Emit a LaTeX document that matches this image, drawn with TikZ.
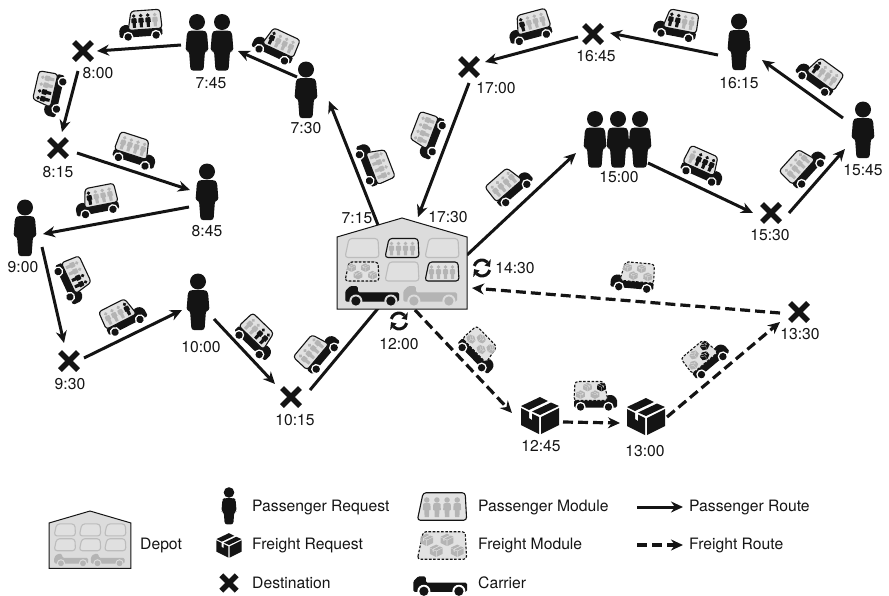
\documentclass[tikz,border=0pt]{standalone}
\usepackage{fontspec}
\setmainfont{TeX Gyre Heros}
\usetikzlibrary{arrows.meta}
\definecolor{ink}{HTML}{141414}
\definecolor{pale}{HTML}{B4B4B4}
\definecolor{modfill}{HTML}{E2E2E2}
\definecolor{depotfill}{HTML}{DCDCDC}
\definecolor{slotline}{HTML}{BCBCBC}
\newcommand{\modoutline}{(-17,9.5) -- (-13,-9.5) -- (16,-9.5) -- (17,9.5) -- cycle}
\tikzset{
    every pic/.style={transform shape},
    stop/.style={inner sep=0pt,minimum width=#1,minimum height=44pt},
    stop/.default=24pt,
    tlabel/.style={inner sep=0pt,font=\fontsize{15.7}{18}\selectfont,text=ink},
    ltext/.style={tlabel,anchor=west},
    paxroute/.style={ink,line width=3pt,-{Stealth[length=12pt,width=11pt]}},
    frtroute/.style={paxroute,line width=3.2pt,dash pattern=on 10pt off 5pt},
    modbody/.style={fill=modfill,draw=ink,line width=1.1pt,rounded corners=3pt},
    pics/person/.style={code={
        \fill[#1] (0,-20.5) circle[radius=8];
        \fill[#1,rounded corners=2.5pt] (-7,-12) -- (-10,-10) -- (-11.5,8.5) -- (-8,8.5) -- (-6.5,28) -- (6.5,28) -- (8,8.5) -- (11.5,8.5) -- (10,-10) -- (7,-12) -- cycle;
    }},
    pics/person/.default=ink,
    pics/tinyman/.style={code={
        \fill[#1] (0,-5) circle[radius=1.9];
        \fill[#1] (-1.6,-2.8) -- (-2.5,-2.2) -- (-2.7,2) -- (-1.7,2) -- (-1.5,6.8) -- (1.5,6.8) -- (1.7,2) -- (2.7,2) -- (2.5,-2.2) -- (1.6,-2.8) -- cycle;
    }},
    pics/crate/.style={code={
        \fill[#1] (-19,-7) -- (-11,-3) -- (-11,3) -- (-8,5) -- (-8,-1.5) -- (-1,2) -- (-1,19) -- (-19,10) -- cycle;
        \fill[#1] (1,2) -- (19,-7) -- (19,10) -- (1,19) -- cycle;
        \fill[#1] (-19,-9) -- (0,-18) -- (8,-14) -- (-11,-5) -- cycle;
        \fill[#1] (11,-12.5) -- (19,-9) -- (0,0) -- (-8,-3.5) -- cycle;
    }},
    pics/crate/.default=ink,
    pics/cross/.style={code={
        \draw[ink,line width=5.5pt] (-9,-9) -- (9,9) (-9,9) -- (9,-9);
    }},
    pics/carrier/.style 2 args={code={
        \fill[#1,rounded corners=1.5pt] (-23,9.5) -- (-23,1) -- (-19,-3) -- (-13,-3) -- (-13,2) -- (20,2) -- (20,9.5) -- cycle;
        \fill[#2] (-14.5,9) circle[radius=5.2] (13.5,9) circle[radius=5.2];
        \fill[#1] (-14.5,9) circle[radius=3.7] (13.5,9) circle[radius=3.7];
    }},
    pics/slot/.style={code={
        \path[modbody,fill=modfill!60!depotfill,draw=slotline] \modoutline;
    }},
    pics/pmodule/.style n args={4}{code={
        \path[modbody] \modoutline;
        \pic at (-10.5,0.5) {tinyman=#1};
        \pic at (-3.5,0.5) {tinyman=#2};
        \pic at (3.5,0.5) {tinyman=#3};
        \pic at (10.5,0.5) {tinyman=#4};
    }},
    pics/fmodule/.style n args={4}{code={
        \path[modbody,dash pattern=on 2.6pt off 1.6pt] \modoutline;
        \pic[scale=.23] at (-10.5,-4) {crate=#1};
        \pic[scale=.23] at (-4,3.5) {crate=#2};
        \pic[scale=.23] at (3.5,-4) {crate=#3};
        \pic[scale=.23] at (10.5,3.5) {crate=#4};
    }},
    pics/pvan/.style n args={4}{code={
        \pic {carrier={ink}{white}};
        \pic at (3,-7) {pmodule={#1}{#2}{#3}{#4}};
    }},
    pics/fvan/.style n args={4}{code={
        \pic {carrier={ink}{white}};
        \pic at (3,-7) {fmodule={#1}{#2}{#3}{#4}};
    }},
    pics/depotshell/.style={code={
        \draw[fill=depotfill,draw=ink,line width=1pt] (-65,-27) -- (0,-46) -- (65,-27) -- (65,45) -- (-65,45) -- cycle;
        \pic at (-40,-16) {slot};
        \pic at (0,-16) {slot};
        \pic at (40,-16) {slot};
        \pic at (-40,7.5) {slot};
        \pic at (0,7.5) {slot};
        \pic at (40,7.5) {slot};
        \pic[scale=1.25] at (-28,25.75) {carrier={pale}{depotfill}};
        \pic[scale=1.25] at (30,25.75) {carrier={pale}{depotfill}};
    }},
    pics/syncmark/.style={code={
        \draw[ink,line width=3pt] (195:8) arc[start angle=195,end angle=315,radius=8];
        \fill[ink] (315:3.5) -- (315:12.5) -- (352:8) -- cycle;
        \draw[ink,line width=3pt] (15:8) arc[start angle=15,end angle=135,radius=8];
        \fill[ink] (135:3.5) -- (135:12.5) -- (172:8) -- cycle;
    }},
}
\begin{document}
\begin{tikzpicture}[x=1pt,y=-1pt]
    \useasboundingbox (0,0) rectangle (889,595);

    % stops of the tour
    \node[minimum width=130pt,minimum height=91pt,inner sep=0pt] (depot) at (402,264) {};
    \node[stop] (s730) at (306,90) {};
    \node[stop=48pt] (s745) at (209,42.5) {};
    \node[stop] (s800) at (83,51) {};
    \node[stop] (s815) at (58,148) {};
    \node[stop] (s845) at (207,192) {};
    \node[stop] (s900) at (25,228) {};
    \node[stop] (s930) at (69,361) {};
    \node[stop] (s1000) at (198,302) {};
    \node[stop] (s1015) at (291,397) {};
    \node[stop=38pt] (s1245) at (540,415) {};
    \node[stop=38pt] (s1300) at (646,416) {};
    \node[stop] (s1330) at (799,312) {};
    \node[stop=70pt] (s1500) at (618,139.5) {};
    \node[stop] (s1530) at (771,213) {};
    \node[stop] (s1545) at (863,130) {};
    \node[stop] (s1615) at (739,42) {};
    \node[stop] (s1645) at (593,34) {};
    \node[stop] (s1700) at (469,67) {};

    % passenger routes
    \draw[paxroute] ([shift={(-24,-39)}]depot.center) -- ([shift={(23,11)}]s730.center);
    \draw[paxroute] ([shift={(-9,-13)}]s730.center) -- ([shift={(29,8.5)}]s745.center);
    \draw[paxroute] ([shift={(-28,2.5)}]s745.center) -- ([shift={(14,0)}]s800.center);
    \draw[paxroute] ([shift={(-5,20)}]s800.center) -- ([shift={(4,-16)}]s815.center);
    \draw[paxroute] ([shift={(19,5)}]s815.center) -- ([shift={(-17,-2)}]s845.center);
    \draw[paxroute] ([shift={(-18,15)}]s845.center) -- ([shift={(18,6)}]s900.center);
    \draw[paxroute] ([shift={(17,19)}]s900.center) -- ([shift={(-5,-18)}]s930.center);
    \draw[paxroute] ([shift={(15,-3)}]s930.center) -- ([shift={(-16,8)}]s1000.center);
    \draw[paxroute] ([shift={(16,17)}]s1000.center) -- ([shift={(-16,-13)}]s1015.center);
    \draw[paxroute] ([shift={(19,-7)}]s1015.center) -- ([shift={(-12,30)}]depot.center);
    \draw[paxroute] ([shift={(65,-9)}]depot.center) -- ([shift={(-42,13.5)}]s1500.center);
    \draw[paxroute] ([shift={(30,23.5)}]s1500.center) -- ([shift={(-18,0)}]s1530.center);
    \draw[paxroute] ([shift={(18,0)}]s1530.center) -- ([shift={(-18,19)}]s1545.center);
    \draw[paxroute] ([shift={(-20,-12)}]s1545.center) -- ([shift={(23,18)}]s1615.center);
    \draw[paxroute] ([shift={(-21,13)}]s1615.center) -- ([shift={(17,-1)}]s1645.center);
    \draw[paxroute] ([shift={(-15,3)}]s1645.center) -- ([shift={(16,-5)}]s1700.center);
    \draw[paxroute] ([shift={(0,16)}]s1700.center) -- ([shift={(16,-47)}]depot.center);

    % freight routes
    \draw[frtroute] ([shift={(13,46)}]depot.center) -- ([shift={(-28,-2)}]s1245.center);
    \draw[frtroute] ([shift={(23,7)}]s1245.center) -- ([shift={(-26,7)}]s1300.center);
    \draw[frtroute] ([shift={(21,1)}]s1300.center) -- ([shift={(-19,10)}]s1330.center);
    \draw[frtroute] ([shift={(-19,1)}]s1330.center) -- ([shift={(70,24)}]depot.center);

    % icons at the stops
    \pic at (depot) {depotshell};
    \pic[scale=1.25] at (374,289.75) {carrier={ink}{depotfill}};
    \pic at (402,248) {pmodule={pale}{pale}{pale}{pale}};
    \pic at (442,271.5) {pmodule={pale}{pale}{pale}{pale}};
    \pic at (362,271.5) {fmodule={pale}{pale}{pale}{pale}};
    \pic at (306,90) {person};
    \pic at (197,42.5) {person};
    \pic at (222,42.5) {person};
    \pic at (s800) {cross};
    \pic at (s815) {cross};
    \pic at (s845) {person};
    \pic at (s900) {person};
    \pic at (s930) {cross};
    \pic at (s1000) {person};
    \pic at (s1015) {cross};
    \pic at (s1245) {crate};
    \pic at (s1300) {crate};
    \pic at (s1330) {cross};
    \pic at (595,139.5) {person};
    \pic at (618,139.5) {person};
    \pic at (640,139.5) {person};
    \pic at (s1530) {cross};
    \pic at (s1545) {person};
    \pic at (s1615) {person};
    \pic at (s1645) {cross};
    \pic at (s1700) {cross};
    \pic at (399,321) {syncmark};
    \pic at (482,268) {syncmark};

    % vehicles on the routes
    \pic[rotate=4] at (142,27) {pvan={ink}{ink}{ink}{pale}};
    \pic[rotate=-25] at (276,47) {pvan={ink}{pale}{pale}{pale}};
    \pic[rotate=-69] at (373,165) {pvan={pale}{pale}{pale}{pale}};
    \pic[rotate=77] at (51,93) {pvan={ink}{ink}{pale}{pale}};
    \pic[rotate=-18,xscale=-1] at (134,153) {pvan={pale}{pale}{pale}{pale}};
    \pic[rotate=11] at (98,203) {pvan={ink}{pale}{pale}{pale}};
    \pic[rotate=-65,xscale=-1] at (72,280) {pvan={ink}{ink}{pale}{pale}};
    \pic[rotate=27,xscale=-1] at (123,318) {pvan={ink}{pale}{pale}{pale}};
    \pic[rotate=-44,xscale=-1] at (255,338) {pvan={ink}{ink}{pale}{pale}};
    \pic[rotate=50,xscale=-1] at (318,353) {pvan={pale}{pale}{pale}{pale}};
    \pic[rotate=69] at (429,135) {pvan={pale}{pale}{pale}{pale}};
    \pic[rotate=15] at (531,29) {pvan={ink}{pale}{pale}{pale}};
    \pic[rotate=-11] at (677,27) {pvan={ink}{ink}{pale}{pale}};
    \pic[rotate=-36] at (819,77) {pvan={ink}{pale}{pale}{pale}};
    \pic[rotate=48,xscale=-1] at (804,168) {pvan={pale}{pale}{pale}{pale}};
    \pic[rotate=-24,xscale=-1] at (702,168) {pvan={ink}{ink}{ink}{pale}};
    \pic[rotate=41,xscale=-1] at (510,187) {pvan={pale}{pale}{pale}{pale}};
    \pic[rotate=-5] at (634,279) {fvan={pale}{pale}{pale}{pale}};
    \pic[rotate=40,xscale=-1] at (706,359) {fvan={ink}{ink}{pale}{pale}};
    \pic[xscale=-1] at (594,398) {fvan={ink}{pale}{pale}{pale}};
    \pic[rotate=-46,xscale=-1] at (478,351) {fvan={pale}{pale}{pale}{pale}};

    % times
    \node[tlabel] (t715) at (357,218) {7:15};
    \node[tlabel] (t730) at (306,128) {7:30};
    \node[tlabel] (t745) at (211,83) {7:45};
    \node[tlabel] (t800) at (98,73) {8:00};
    \node[tlabel] (t815) at (58,172) {8:15};
    \node[tlabel] (t845) at (207,231) {8:45};
    \node[tlabel] (t900) at (23,267) {9:00};
    \node[tlabel] (t930) at (70,384) {9:30};
    \node[tlabel] (t1000) at (201,347) {10:00};
    \node[tlabel] (t1015) at (295,420) {10:15};
    \node[tlabel] (t1200) at (399,344) {12:00};
    \node[tlabel] (t1245) at (541,446) {12:45};
    \node[tlabel] (t1300) at (645,451) {13:00};
    \node[tlabel] (t1330) at (800,334) {13:30};
    \node[tlabel] (t1430) at (515,268) {14:30};
    \node[tlabel] (t1500) at (619,177) {15:00};
    \node[tlabel] (t1530) at (770,235) {15:30};
    \node[tlabel] (t1545) at (863,170) {15:45};
    \node[tlabel] (t1615) at (739,83) {16:15};
    \node[tlabel] (t1645) at (596,56) {16:45};
    \node[tlabel] (t1700) at (496,88) {17:00};
    \node[tlabel] (t1730) at (448,217) {17:30};

    % legend
    \pic[scale=.63] at (90,540) {depotshell};
    \pic[scale=.66] at (229,506) {person};
    \pic[scale=.66] at (229,545) {crate};
    \pic[scale=.85] at (229,583) {cross};
    \pic[scale=1.45] at (442,506.5) {pmodule={pale}{pale}{pale}{pale}};
    \pic[scale=1.45] at (442,545.5) {fmodule={pale}{pale}{pale}{pale}};
    \pic[scale=1.25] at (442,580) {carrier={ink}{white}};
    \node[ltext] (ldepot) at (140,545) {Depot};
    \node[ltext] (lreq) at (252,507) {Passenger Request};
    \node[ltext] (lfrq) at (252,545) {Freight Request};
    \node[ltext] (ldest) at (252,583) {Destination};
    \node[ltext] (lpmod) at (478,507) {Passenger Module};
    \node[ltext] (lfmod) at (478,545) {Freight Module};
    \node[ltext] (lcarr) at (478,583) {Carrier};
    \node[ltext] (lproute) at (689,507) {Passenger Route};
    \node[ltext] (lfroute) at (689,545) {Freight Route};
    \coordinate (pstart) at (637,507);
    \coordinate (fstart) at (637,545);
    \draw[paxroute] (pstart) -- ([xshift=-6pt]lproute.west);
    \draw[frtroute] (fstart) -- ([xshift=-6pt]lfroute.west);
\end{tikzpicture}
\end{document}
